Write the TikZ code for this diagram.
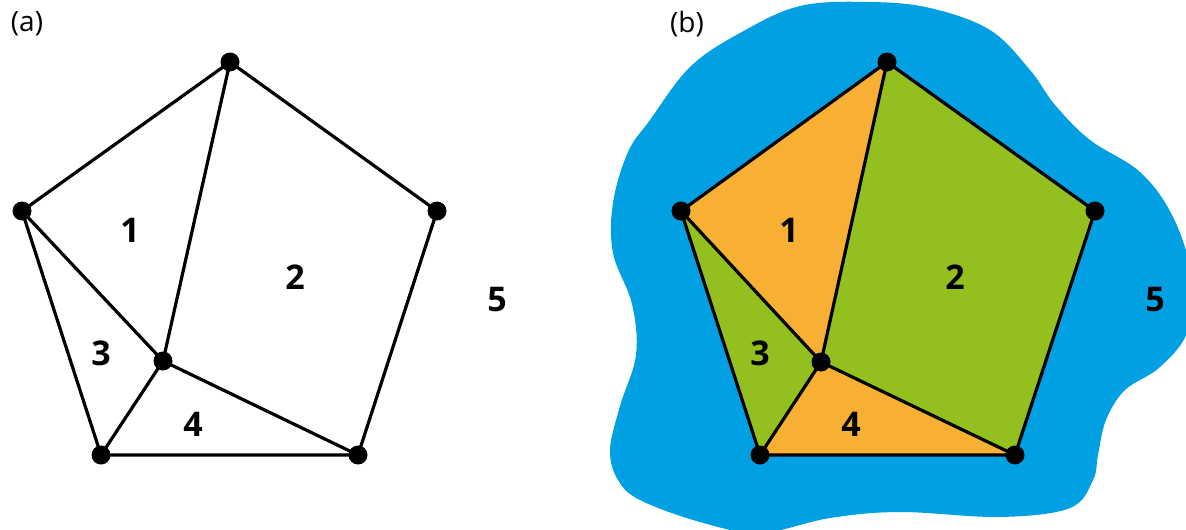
\documentclass[tikz,border=0pt]{standalone}
\usepackage{fontspec}
\setmainfont{Open Sans}
\usetikzlibrary{positioning}
\definecolor{seablue}{HTML}{00A0E3}
\definecolor{regorange}{HTML}{F7B034}
\definecolor{reggreen}{HTML}{93C01F}

\begin{document}
\begin{tikzpicture}[x=1pt,y=-1pt,line width=3.2pt,line join=round,
  vtx/.style={circle,fill=black,inner sep=0pt,minimum size=19pt},
  num/.style={font=\fontsize{34}{34}\selectfont\bfseries},
  tag/.style={font=\fontsize{28}{28}\selectfont}]
  \useasboundingbox (0,0) rectangle (1186,530);

  % (a) plain graph
  \coordinate (aT) at (230,62);
  \coordinate (aL) at (22,211);
  \coordinate (aR) at (437,211);
  \coordinate (aBL) at (101,455);
  \coordinate (aBR) at (358,455);
  \coordinate (aI) at (163,361);
  \draw (aT) -- (aL) -- (aBL) -- (aBR) -- (aR) -- cycle;
  \draw (aL) -- (aI) -- (aT);
  \draw (aBL) -- (aI) -- (aBR);
  \foreach \v in {aT,aL,aR,aBL,aBR,aI}
    \node[vtx] (\v dot) at (\v) {};
  \node[tag] (atag) at (27,24) {(a)};
  \node[num] (a1) at (130,230) {1};
  \node[num] (a2) at (295,277) {2};
  \node[num] (a3) at (101,353) {3};
  \node[num] (a4) at (193,424) {4};
  \node[num] (a5) at (497,300) {5};

  % (b) coloured map
  \begin{scope}
    \clip (0,0) rectangle (1186,530);
    \fill[seablue] plot[smooth cycle,tension=0.6] coordinates {
      (650,120) (690,67) (740,33) (800,6) (870,2) (930,8) (990,30)
      (1030,70) (1055,105) (1090,140) (1140,172) (1172,215) (1190,270)
      (1188,330) (1160,367) (1125,390) (1106,420) (1098,455) (1093,480)
      (1070,508) (1000,517) (900,512) (830,518) (760,533) (700,522)
      (640,500) (618,480) (610,450) (620,406) (636,355) (632,304)
      (613,253) (613,203) (628,152)};
  \end{scope}
  \coordinate (bT) at (887,62);
  \coordinate (bL) at (681,211);
  \coordinate (bR) at (1095,211);
  \coordinate (bBL) at (760,455);
  \coordinate (bBR) at (1015,455);
  \coordinate (bI) at (821,362);
  \fill[regorange] (bL) -- (bT) -- (bI) -- cycle;
  \fill[reggreen] (bT) -- (bR) -- (bBR) -- (bI) -- cycle;
  \fill[reggreen] (bL) -- (bI) -- (bBL) -- cycle;
  \fill[regorange] (bI) -- (bBL) -- (bBR) -- cycle;
  \draw (bT) -- (bL) -- (bBL) -- (bBR) -- (bR) -- cycle;
  \draw (bL) -- (bI) -- (bT);
  \draw (bBL) -- (bI) -- (bBR);
  \foreach \v in {bT,bL,bR,bBL,bBR,bI}
    \node[vtx] (\v dot) at (\v) {};
  \node[tag] (btag) at (687,24) {(b)};
  \node[num] (b1) at (789,230) {1};
  \node[num] (b2) at (955,277) {2};
  \node[num] (b3) at (760,353) {3};
  \node[num] (b4) at (851,424) {4};
  \node[num] (b5) at (1155,300) {5};
\end{tikzpicture}
\end{document}
